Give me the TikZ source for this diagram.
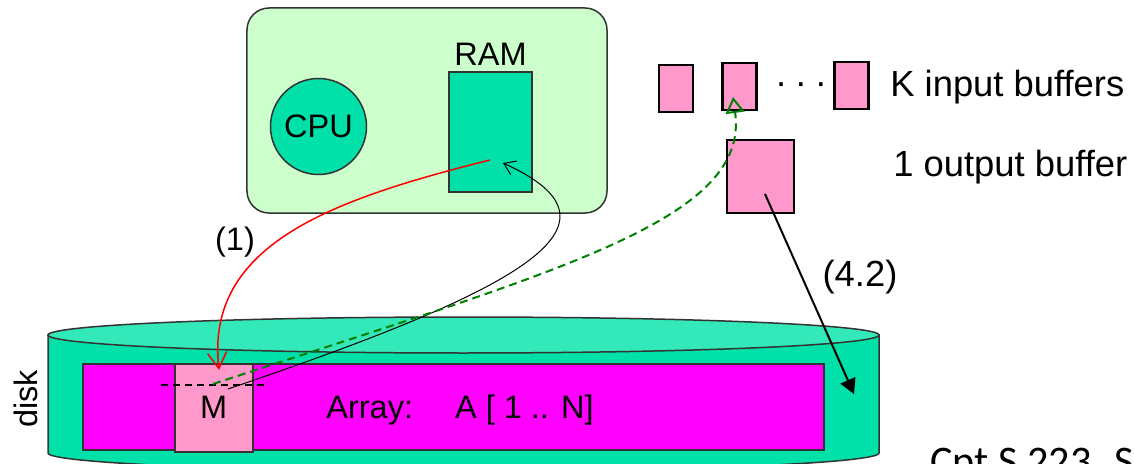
\documentclass[tikz,border=0pt]{standalone}
\usepackage{fontspec}
\setmainfont{Liberation Sans}
\newfontfamily\footfont{Carlito}
\usepackage {tikz}
\usetikzlibrary {positioning}
\usetikzlibrary{arrows.meta}

\definecolor{boxgreen}{HTML}{CCFFCC}
\definecolor{memgreen}{HTML}{00E1A9}
\definecolor{disktop}{HTML}{33E8B9}
\definecolor{bufpink}{HTML}{FF99CC}
\definecolor{arrmag}{HTML}{FF00FF}
\definecolor{dashgreen}{HTML}{008000}

\tikzset{
	txt/.style={font=\fontsize{18.5}{22}\selectfont, inner sep=0pt},
	bigtxt/.style={font=\fontsize{20.7}{24}\selectfont, inner sep=0pt},
	part/.style={draw=black!80, line width=0.3mm, fill=#1, inner sep=0pt},
	buf/.style={draw=black, line width=0.45mm, fill=bufpink, inner sep=0pt, minimum width=6.8mm, minimum height=9.4mm},
}

\begin{document}
\begin{tikzpicture}[x=0.2mm,y=-0.2mm]
	\clip (0,0) rectangle (1134,464);
	\node[part=boxgreen, rounded corners=4.4mm, minimum width=72mm, minimum height=41mm] (box) at (427,110.5) {};
	\node[part=memgreen, circle, minimum size=19.2mm, txt] (CPU) at (318.5,126.5) {CPU};
	\node[part=memgreen, minimum width=16.6mm, minimum height=24mm] (RAM) at (490.5,132) {};
	\node[txt, above=1mm of RAM] (ramlbl) {RAM};

	\draw[part=memgreen] (48,335) -- (48,453) arc[start angle=180, end angle=0, x radius=415.5, y radius=18] -- (879,335) -- cycle;
	\draw[part=disktop] (463.5,335) ellipse[x radius=415.5, y radius=18];
	\node[txt, rotate=90] (disk) at (26,399) {disk};
	\node[part=arrmag, anchor=north west, minimum width=148.2mm, minimum height=17.2mm] (arr) at (82,363) {};
	\node[part=bufpink, txt, anchor=north west, minimum width=15.6mm, minimum height=17.6mm] (M) at (174,363) {M};
	\node[txt, anchor=base west] (arrtxt) at (326,418) {Array:\hspace{8.4mm}A [ 1 .. N]};
	\draw[line width=0.3mm, dash pattern=on 1.4mm off 1mm] (161,385) -- (267,385);

	\node[buf] (B1) at (676,88.5) {};
	\node[buf] (B2) at (739.5,86.5) {};
	\node[buf] (BK) at (851.5,85.5) {};
	\node[bigtxt] (dots) at (801,89) {·\kern1.55mm·\kern1.55mm·};
	\node[buf, minimum width=13.4mm, minimum height=14.6mm] (out) at (760.5,176.5) {};
	\node[bigtxt, anchor=base west] (inlbl) at (890,97) {K input buffers};
	\node[bigtxt, anchor=base west] (outlbl) at (893,177) {1 output buffer};

	\node[txt] (one) at (235,242) {(1)};
	\node[bigtxt] (four) at (860,277) {(4.2)};
	\node[font=\footfont\fontsize{24}{28}\selectfont, inner sep=0pt, anchor=base west] (foot) at (930,475) {Cpt S 223. S};

	\path (490,160) coordinate (ramA) (503,163) coordinate (ramB)
	(219,370) coordinate (mtop) (228,389) coordinate (mlo) (213,384) coordinate (mmid)
	(733,97) coordinate (bin) (765,194) coordinate (oin) (854,394) coordinate (dsk);
	\draw[red, line width=0.3mm, -{Straight Barb[length=3.2mm,width=3.8mm]}] (ramA) .. controls (330,200) and (205,245) .. (mtop);
	\draw[line width=0.2mm, -{Straight Barb[length=2.2mm,width=3mm]}] (mlo) .. controls (520,290) and (640,225) .. (ramB);
	\draw[dashgreen, line width=0.4mm, dash pattern=on 1.6mm off 1mm, -{Triangle[open,length=3.2mm,width=3.8mm]}] (mmid) .. controls (560,270) and (750,220) .. (bin);
	\draw[line width=0.4mm, -{Triangle[length=3mm,width=3.2mm]}] (oin) -- (dsk);
\end{tikzpicture}
\end{document}
